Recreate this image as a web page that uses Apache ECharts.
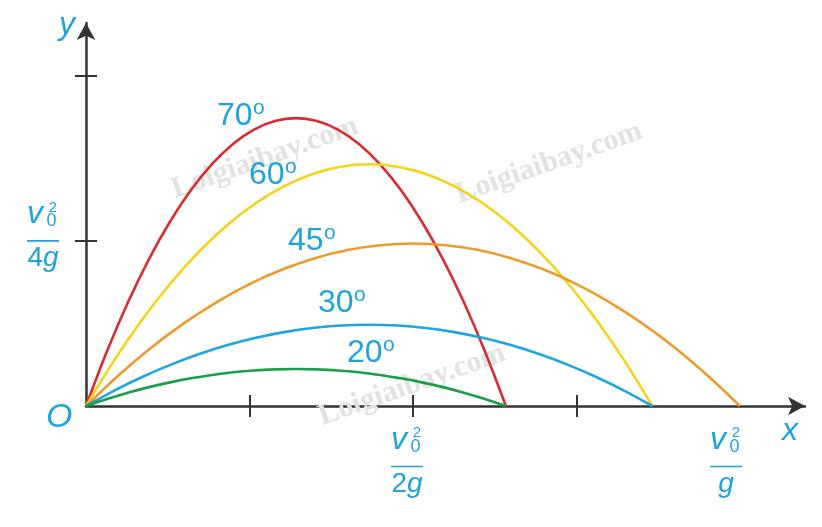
<!DOCTYPE html>
<html>
<head>
<meta charset="utf-8">
<script src="https://cdn.jsdelivr.net/npm/echarts@6/dist/echarts.min.js"></script>
<style>
html,body{margin:0;padding:0;background:#fff;}
#chart{width:822px;height:527px;}
</style>
</head>
<body>
<div id="chart"></div>
<script>
// ---- data (units: x and y in multiples of v0^2/g) ----
const angleLabels = ['70', '60', '45', '30', '20'];

const x70 = [0, 0.0321, 0.0642, 0.0963, 0.1284, 0.1605, 0.1926, 0.2247, 0.2568, 0.2889, 0.3210, 0.3531, 0.3852, 0.4173, 0.4494, 0.4815, 0.5136, 0.5457, 0.5778, 0.6099, 0.6420];
const y70 = [0, 0.0828, 0.1570, 0.2224, 0.2790, 0.3270, 0.3662, 0.3968, 0.4186, 0.4316, 0.4360, 0.4316, 0.4186, 0.3968, 0.3662, 0.3270, 0.2790, 0.2224, 0.1570, 0.0828, 0];

const x60 = [0, 0.0433, 0.0866, 0.1299, 0.1732, 0.2165, 0.2598, 0.3031, 0.3464, 0.3897, 0.4330, 0.4763, 0.5196, 0.5629, 0.6062, 0.6495, 0.6928, 0.7361, 0.7794, 0.8227, 0.8660];
const y60 = [0, 0.0695, 0.1318, 0.1867, 0.2342, 0.2745, 0.3074, 0.3331, 0.3514, 0.3623, 0.3660, 0.3623, 0.3514, 0.3331, 0.3074, 0.2745, 0.2342, 0.1867, 0.1318, 0.0695, 0];

const x45 = [0, 0.05, 0.10, 0.15, 0.20, 0.25, 0.30, 0.35, 0.40, 0.45, 0.50, 0.55, 0.60, 0.65, 0.70, 0.75, 0.80, 0.85, 0.90, 0.95, 1.00];
const y45 = [0, 0.0467, 0.0886, 0.1255, 0.1574, 0.1845, 0.2066, 0.2239, 0.2362, 0.2435, 0.2460, 0.2435, 0.2362, 0.2239, 0.2066, 0.1845, 0.1574, 0.1255, 0.0886, 0.0467, 0];

const x30 = [0, 0.0433, 0.0866, 0.1299, 0.1732, 0.2165, 0.2598, 0.3031, 0.3464, 0.3897, 0.4330, 0.4763, 0.5196, 0.5629, 0.6062, 0.6495, 0.6928, 0.7361, 0.7794, 0.8227, 0.8660];
const y30 = [0, 0.0234, 0.0443, 0.0627, 0.0787, 0.0923, 0.1033, 0.1119, 0.1181, 0.1218, 0.1230, 0.1218, 0.1181, 0.1119, 0.1033, 0.0923, 0.0787, 0.0627, 0.0443, 0.0234, 0];

const x20 = [0, 0.0321, 0.0642, 0.0963, 0.1284, 0.1605, 0.1926, 0.2247, 0.2568, 0.2889, 0.3210, 0.3531, 0.3852, 0.4173, 0.4494, 0.4815, 0.5136, 0.5457, 0.5778, 0.6099, 0.6420];
const y20 = [0, 0.0106, 0.0202, 0.0286, 0.0358, 0.0420, 0.0470, 0.0510, 0.0538, 0.0554, 0.0560, 0.0554, 0.0538, 0.0510, 0.0470, 0.0420, 0.0358, 0.0286, 0.0202, 0.0106, 0];

const xTickValues = [0.25, 0.5, 0.75];
const xLabelValues = [0.5, 1];
const xLabelDenoms = ['2g', 'g'];
const yTickValues = [0.25, 0.5];
const yLabelValues = [0.25];
const yLabelDenoms = ['4g'];

// ---- styling ----
const TEXT = '#1fa3dc';
const AXIS = '#333333';
const FONT = '"Liberation Sans", Arial, sans-serif';
const lineColors = ['#d92b32', '#f5d315', '#ee9a2e', '#1fa6de', '#1a9e48'];
const xsAll = [x70, x60, x45, x30, x20];
const ysAll = [y70, y60, y45, y30, y20];

function frac(denom, spacer) {
  const s = spacer ? '{' + spacer + '|}' : '';
  const num = denom.slice(0, -1);
  return '{p|}{sup|2}' + s + '\n' +
         '{v|v}{sub|0}' + s + '\n' +
         '{bar|}' + s + '\n' +
         (num ? '{d|' + num + '}' : '') + '{g|g}' + s;
}

const rich = {
  p:   {width: 20, lineHeight: 12},
  sup: {width: 13, fontSize: 15, lineHeight: 12, color: TEXT, fontFamily: FONT},
  v:   {width: 17, fontSize: 32, fontStyle: 'italic', lineHeight: 17, verticalAlign: 'bottom', color: TEXT, fontFamily: FONT},
  sub: {width: 16, fontSize: 18, lineHeight: 17, verticalAlign: 'bottom', color: TEXT, fontFamily: FONT},
  bar: {width: 32, height: 0, borderColor: TEXT, borderWidth: 1.6, lineHeight: 21},
  d:   {fontSize: 28, lineHeight: 14, color: TEXT, fontFamily: FONT},
  g:   {fontSize: 28, fontStyle: 'italic', lineHeight: 14, color: TEXT, fontFamily: FONT},
  s12: {width: 12, lineHeight: 1},
  s28: {width: 28, lineHeight: 1}
};
const xSpacers = ['s12', 's28'];

const XMAX = 1.0994, YMAX = 0.580;

const series = angleLabels.map((a, i) => ({
  type: 'line',
  name: a + '°',
  data: xsAll[i].map((x, j) => [x, ysAll[i][j]]),
  smooth: 0.3,
  showSymbol: false,
  silent: true,
  z: 3,
  lineStyle: {color: lineColors[i], width: 2.6}
}));

// angle annotation positions (pixel, top-left of digits)
const annPos = [[217, 103], [249, 162], [288, 228], [318, 290], [347, 340]];
const graphics = [];
// watermarks
[[265, 158], [549, 163], [412, 385]].forEach(c => {
  graphics.push({
    type: 'text', x: c[0], y: c[1], rotation: 0.34, z: 1, silent: true,
    style: {text: 'Loigiaibay.com', font: 'bold 30px "Liberation Serif", serif',
      fill: '#e2e2e2', align: 'center', verticalAlign: 'middle',
      textAlign: 'center', textVerticalAlign: 'middle'}
  });
});
annPos.forEach((p, i) => {
  graphics.push({
    type: 'text', x: p[0], y: p[1] - 3, z: 20, silent: true,
    style: {text: angleLabels[i], font: '32px ' + FONT, fill: TEXT,
      align: 'left', verticalAlign: 'top', textAlign: 'left', textVerticalAlign: 'top'}
  });
  graphics.push({
    type: 'text', x: p[0] + 36, y: p[1] - 5, z: 20, silent: true,
    style: {text: 'o', font: '21px ' + FONT, fill: TEXT,
      align: 'left', verticalAlign: 'top', textAlign: 'left', textVerticalAlign: 'top'}
  });
});
graphics.push({
  type: 'text', x: 46, y: 401, z: 20, silent: true,
  style: {text: 'O', font: 'italic 34px ' + FONT, fill: TEXT,
    align: 'left', verticalAlign: 'top', textAlign: 'left', textVerticalAlign: 'top'}
});

const chart = echarts.init(document.getElementById('chart'), null, {renderer: 'canvas'});
chart.setOption({
  backgroundColor: '#ffffff',
  animation: false,
  grid: {left: 86, top: 23, right: 17, bottom: 121, containLabel: false, outerBoundsMode: 'none'},
  xAxis: [{
    type: 'value', min: 0, max: XMAX, position: 'bottom',
    name: 'x', nameLocation: 'end', nameGap: 0,
    nameTextStyle: {fontSize: 32, fontStyle: 'italic', color: TEXT, fontFamily: FONT,
      align: 'right', verticalAlign: 'top', padding: [9, 7, 0, 0]},
    axisLine: {show: true, onZero: false, symbol: ['none', 'arrow'], symbolSize: [14, 17],
      lineStyle: {color: AXIS, width: 2.5}},
    axisTick: {show: true, customValues: xTickValues, length: 11, inside: false,
      lineStyle: {color: AXIS, width: 2}},
    axisLabel: {show: true, customValues: xLabelValues, margin: 21, align: 'center',
      formatter: v => {
        const k = xLabelValues.findIndex(t => Math.abs(t - v) < 1e-9);
        return k < 0 ? '' : frac(xLabelDenoms[k], xSpacers[k]);
      }, rich: rich},
    splitLine: {show: false}
  }, {
    type: 'value', min: 0, max: XMAX, position: 'bottom',
    axisLine: {show: false, onZero: false},
    axisTick: {show: true, customValues: xTickValues, length: 11, inside: true,
      lineStyle: {color: AXIS, width: 2}},
    axisLabel: {show: false},
    splitLine: {show: false}
  }],
  yAxis: [{
    type: 'value', min: 0, max: YMAX, position: 'left',
    name: 'y', nameLocation: 'end', nameGap: -2,
    nameTextStyle: {fontSize: 32, fontStyle: 'italic', color: TEXT, fontFamily: FONT,
      align: 'right', verticalAlign: 'middle', padding: [0, 11, 0, 0]},
    axisLine: {show: true, onZero: false, symbol: ['none', 'arrow'], symbolSize: [14, 17],
      lineStyle: {color: AXIS, width: 2.5}},
    axisTick: {show: true, customValues: yTickValues, length: 11, inside: false,
      lineStyle: {color: AXIS, width: 2}},
    axisLabel: {show: true, customValues: yLabelValues, margin: 43, align: 'center',
      verticalAlign: 'middle', padding: [0, 0, 15, 0],
      formatter: v => {
        const k = yLabelValues.findIndex(t => Math.abs(t - v) < 1e-9);
        return k < 0 ? '' : frac(yLabelDenoms[k], null);
      }, rich: rich},
    splitLine: {show: false}
  }, {
    type: 'value', min: 0, max: YMAX, position: 'left',
    axisLine: {show: false, onZero: false},
    axisTick: {show: true, customValues: yTickValues, length: 11, inside: true,
      lineStyle: {color: AXIS, width: 2}},
    axisLabel: {show: false},
    splitLine: {show: false}
  }],
  series: series,
  graphic: graphics
});
</script>
</body>
</html>
